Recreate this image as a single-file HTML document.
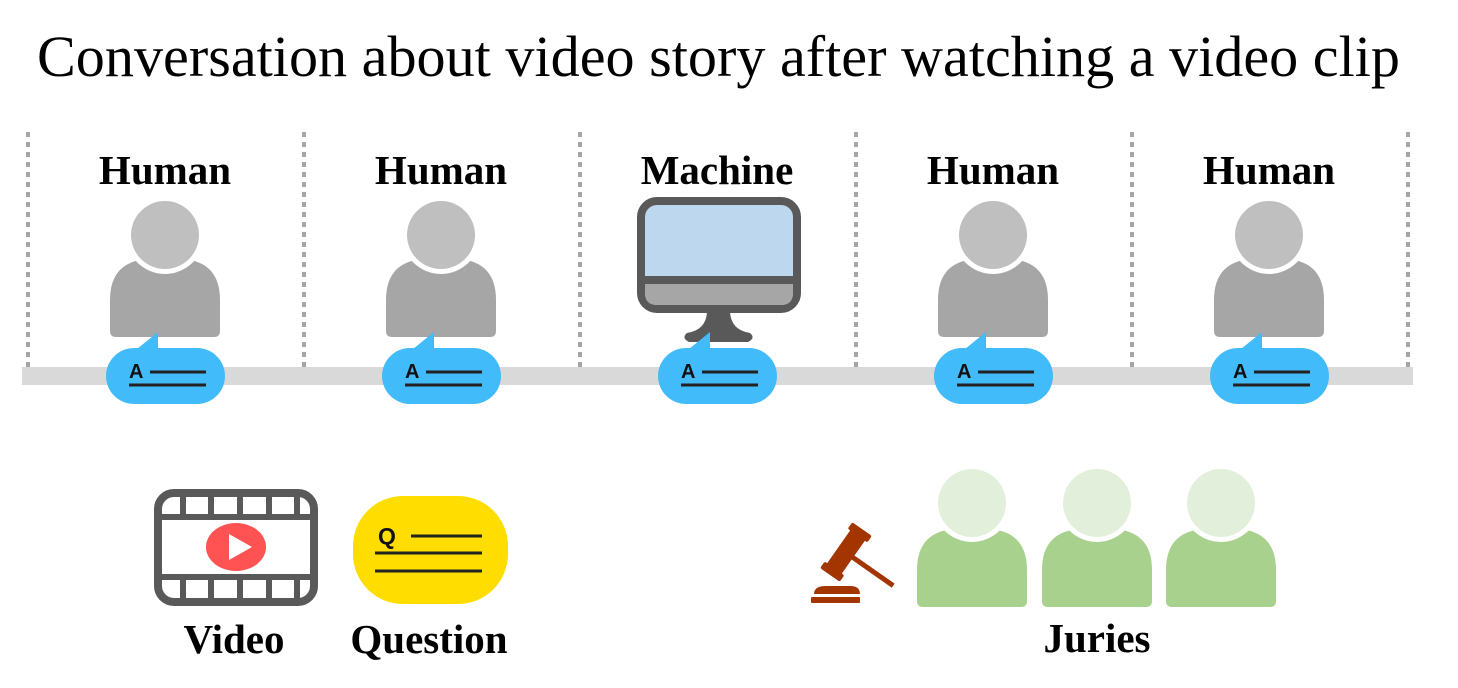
<!DOCTYPE html>
<html><head><meta charset="utf-8"><style>
html,body{margin:0;padding:0;background:#fff;}
svg{display:block;}
</style></head><body>
<svg width="1458" height="688" viewBox="0 0 1458 688" xmlns="http://www.w3.org/2000/svg">
<defs>
<g id="person">
  <path d="M-55,337 L-55,300 Q-55,262 -18,259 Q0,278 18,259 Q55,262 55,300 L55,331 Q55,337 49,337 L-49,337 Q-55,337 -55,331 Z"/>
</g>
<g id="bubble">
  <rect x="-59" y="348" width="119" height="56" rx="28" fill="#42bbfb"/>
  <path d="M-28,349 L-7,332 L-7,349 Z" fill="#42bbfb"/>
  <text x="-36" y="378" font-family="Liberation Sans, sans-serif" font-weight="bold" font-size="20" fill="#111">A</text>
  <line x1="-15" y1="372" x2="41" y2="372" stroke="#222" stroke-width="3"/>
  <line x1="-36" y1="385" x2="41" y2="385" stroke="#222" stroke-width="3"/>
</g>
</defs>
<text x="37" y="76" font-family="Liberation Serif, serif" font-size="58" textLength="1363" lengthAdjust="spacingAndGlyphs" fill="#000">Conversation about video story after watching a video clip</text>

<g stroke="#a6a6a6" stroke-width="4" stroke-dasharray="5,5">
<line x1="28" y1="132" x2="28" y2="367"/><line x1="304" y1="132" x2="304" y2="367"/>
<line x1="580" y1="132" x2="580" y2="367"/><line x1="856" y1="132" x2="856" y2="367"/>
<line x1="1132" y1="132" x2="1132" y2="367"/><line x1="1408" y1="132" x2="1408" y2="367"/>
</g>
<rect x="22" y="367" width="1391" height="18" fill="#d9d9d9"/>

<g font-family="Liberation Serif, serif" font-weight="bold" font-size="41" text-anchor="middle" fill="#000">
<text x="165" y="184">Human</text><text x="441" y="184">Human</text>
<text x="717" y="184">Machine</text><text x="993" y="184">Human</text><text x="1269" y="184">Human</text>
</g>

<g>
<g transform="translate(165,0)"><use href="#person" fill="#a6a6a6"/><circle cx="0" cy="235" r="39" fill="#fff"/><circle cx="0" cy="235" r="34" fill="#bfbfbf"/></g>
<g transform="translate(441,0)"><use href="#person" fill="#a6a6a6"/><circle cx="0" cy="235" r="39" fill="#fff"/><circle cx="0" cy="235" r="34" fill="#bfbfbf"/></g>
<g transform="translate(993,0)"><use href="#person" fill="#a6a6a6"/><circle cx="0" cy="235" r="39" fill="#fff"/><circle cx="0" cy="235" r="34" fill="#bfbfbf"/></g>
<g transform="translate(1269,0)"><use href="#person" fill="#a6a6a6"/><circle cx="0" cy="235" r="39" fill="#fff"/><circle cx="0" cy="235" r="34" fill="#bfbfbf"/></g>
</g>
<!-- monitor -->
<path d="M707,312 L730,312 Q731,330 750,333 Q756,338 748,342 L689,342 Q681,338 687,333 Q706,330 707,312 Z" fill="#595959"/>
<rect x="641" y="201" width="156" height="108" rx="16" fill="#bdd7ee" stroke="#595959" stroke-width="8"/>
<path d="M645,284 L793,284 L793,293 Q793,305 781,305 L657,305 Q645,305 645,293 Z" fill="#a6a6a6"/>
<rect x="645" y="276" width="148" height="8" fill="#595959"/>

<use href="#bubble" transform="translate(165,0)"/>
<use href="#bubble" transform="translate(441,0)"/>
<use href="#bubble" transform="translate(717,0)"/>
<use href="#bubble" transform="translate(993,0)"/>
<use href="#bubble" transform="translate(1269,0)"/>

<!-- video -->
<rect x="158" y="493" width="156" height="109" rx="16" fill="#fff" stroke="#595959" stroke-width="8"/>
<rect x="158" y="514" width="156" height="6" fill="#595959"/>
<rect x="158" y="574" width="156" height="6" fill="#595959"/>
<g fill="#595959">
<rect x="180" y="493" width="6" height="24"/><rect x="208" y="493" width="6" height="24"/><rect x="237" y="493" width="6" height="24"/><rect x="266" y="493" width="6" height="24"/><rect x="294" y="493" width="6" height="24"/>
<rect x="180" y="578" width="6" height="24"/><rect x="208" y="578" width="6" height="24"/><rect x="237" y="578" width="6" height="24"/><rect x="266" y="578" width="6" height="24"/><rect x="294" y="578" width="6" height="24"/>
</g>
<ellipse cx="236" cy="547" rx="30" ry="24" fill="#ff5252"/>
<path d="M229,534 L252,547 L229,560 Z" fill="#fff"/>

<!-- question -->
<rect x="353" y="496" width="155" height="108" rx="50" fill="#ffdd00"/>
<text x="378" y="544" font-family="Liberation Sans, sans-serif" font-weight="bold" font-size="23" fill="#111">Q</text>
<line x1="411" y1="536" x2="482" y2="536" stroke="#222" stroke-width="3"/>
<line x1="375" y1="553" x2="482" y2="553" stroke="#222" stroke-width="3"/>
<line x1="375" y1="571" x2="482" y2="571" stroke="#222" stroke-width="3"/>

<g font-family="Liberation Serif, serif" font-weight="bold" font-size="41" text-anchor="middle" fill="#000">
<text x="234" y="653">Video</text><text x="429" y="653">Question</text><text x="1097" y="652">Juries</text>
</g>

<!-- juries -->
<g transform="translate(972,270)"><use href="#person" fill="#a9d18e"/><circle cx="0" cy="233" r="39" fill="#fff"/><circle cx="0" cy="233" r="34" fill="#e2efda"/></g>
<g transform="translate(1097,270)"><use href="#person" fill="#a9d18e"/><circle cx="0" cy="233" r="39" fill="#fff"/><circle cx="0" cy="233" r="34" fill="#e2efda"/></g>
<g transform="translate(1221,270)"><use href="#person" fill="#a9d18e"/><circle cx="0" cy="233" r="39" fill="#fff"/><circle cx="0" cy="233" r="34" fill="#e2efda"/></g>

<!-- gavel -->
<g fill="#a33600">
<path d="M814,594 Q814,586 826,586 L850,586 Q860,586 860,594 Z"/>
<rect x="811" y="597" width="49" height="6" rx="1"/>
<g transform="translate(846,552) rotate(35)">
<rect x="-9" y="-22" width="18" height="44"/>
<rect x="-12" y="-28" width="24" height="8" rx="2"/>
<rect x="-12" y="20" width="24" height="8" rx="2"/>
<rect x="8" y="-2" width="50" height="5"/>
</g>
</g>
</svg>
</body></html>
